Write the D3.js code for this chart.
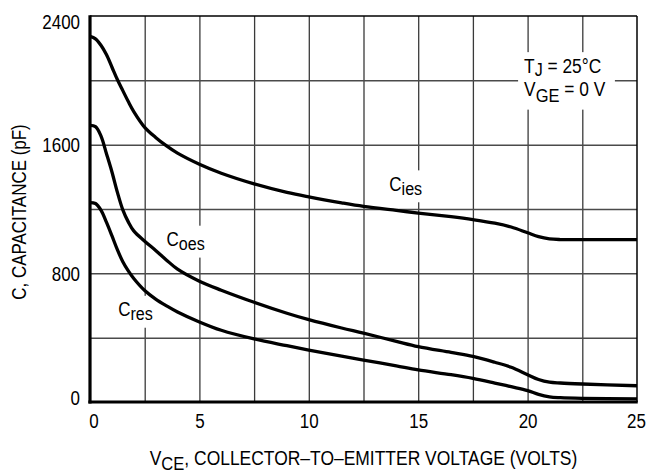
<!DOCTYPE html>
<html>
<head>
<meta charset="utf-8">
<script src="https://cdn.jsdelivr.net/npm/d3@7"></script>
<style>
  html, body { margin: 0; padding: 0; background: #fff; }
  svg { display: block; }
  text { font-family: 'Liberation Sans', Arial, Helvetica, sans-serif; fill: #000; }
</style>
</head>
<body>
<svg id="chart" width="650" height="473"></svg>
<script>
// Collector-emitter voltage (V) at which each capacitance curve is sampled
const voltage = [0, 0.25, 0.5, 0.75, 1, 1.25, 1.5, 1.75, 2, 2.5, 3, 3.5, 4, 5, 6, 7.5, 9, 10,
                 11.5, 12.5, 14, 15, 16.5, 17.5, 18.5, 19.25, 20, 20.5, 21, 21.5, 22.5, 25];

// Input capacitance Cies (pF)
const cies = [2273, 2258, 2218, 2160, 2083, 2005, 1936, 1868, 1806, 1708, 1645, 1592, 1547, 1478,
              1422, 1356, 1303, 1275, 1238, 1216, 1191, 1175, 1152, 1134, 1112, 1088, 1052, 1028,
              1014, 1010, 1010, 1010];

// Output capacitance Coes (pF)
const coes = [1720, 1712, 1655, 1545, 1432, 1305, 1195, 1120, 1064, 1000, 942, 882, 826, 751,
              695, 620, 552, 512, 460, 428, 377, 344, 308, 283, 247, 216, 170, 140, 123, 118, 112, 101];

// Reverse transfer capacitance Cres (pF)
const cres = [1240, 1234, 1193, 1118, 1034, 947, 872, 815, 768, 693, 640, 598, 560, 498,
              446, 392, 350, 323, 286, 261, 224, 199, 170, 147, 118, 95, 71, 47, 32, 27, 23, 19];

// Axis ticks
const xTicks = [0, 5, 10, 15, 20, 25];
const xGrid = [2.5, 5, 7.5, 10, 12.5, 15, 17.5, 20, 22.5];
const yTicks = [0, 800, 1600, 2400];
const yGrid = [400, 800, 1200, 1600, 2000];

// Curve labels: [main, subscript, voltage, capacitance at baseline]
const curveLabels = [
  ["C", "ies", 13.68, 1315],
  ["C", "oes", 3.5, 971],
  ["C", "res", 1.29, 535]
];

const margin = { left: 90, right: 13, top: 16, bottom: 71 };
const W = 650, H = 473;
const iw = W - margin.left - margin.right;
const ih = H - margin.top - margin.bottom;
const FS = 19.5;       // base type size
const SX = 0.87;       // horizontal squeeze for a condensed face

const svg = d3.select("#chart");
const g = svg.append("g").attr("transform", `translate(${margin.left},${margin.top})`);

const x = d3.scaleLinear().domain([0, 25]).range([0, iw]);
const y = d3.scaleLinear().domain([0, 2400]).range([ih, 0]);

// Condense a text element around its own anchor point
function condense(sel, extra, sx) {
  sel.each(function () {
    const t = d3.select(this);
    const tx = +t.attr("x") || 0, ty = +t.attr("y") || 0;
    t.attr("x", 0).attr("y", 0)
      .attr("transform", `translate(${tx},${ty})${extra || ""} scale(${sx || SX},1)`);
  });
}

// Grid lines
g.append("g")
  .attr("transform", `translate(0,${ih})`)
  .call(d3.axisBottom(x).tickValues(xGrid).tickSize(-ih).tickFormat(""))
  .call(a => a.select(".domain").remove())
  .call(a => a.selectAll("line").attr("stroke", "#3a3a3a").attr("stroke-width", 1.3));

g.append("g")
  .call(d3.axisLeft(y).tickValues(yGrid).tickSize(-iw).tickFormat(""))
  .call(a => a.select(".domain").remove())
  .call(a => a.selectAll("line").attr("stroke", "#4a4a4a").attr("stroke-width", 1.5));

const anchor = g.append("g").attr("class", "note-anchor");

// Condition note in the upper right
const note = anchor.append("g");
const noteX = x(19.84);
const t1 = note.append("text").attr("x", noteX).attr("y", y(2045)).attr("font-size", FS);
t1.append("tspan").text("T");
t1.append("tspan").attr("dy", 3).attr("font-size", 18).text("J");
t1.append("tspan").attr("dy", -3).text(" = 25°C");
const t2 = note.append("text").attr("x", noteX).attr("y", y(1900)).attr("font-size", FS);
t2.append("tspan").text("V");
t2.append("tspan").attr("dy", 6).attr("font-size", 18.5).text("GE");
t2.append("tspan").attr("dy", -6).text(" = 0 V");
condense(note.selectAll("text"), "", 0.89);

// Curve labels
const labelGroup = anchor.append("g");
curveLabels.forEach(([main, sub, v, c]) => {
  const t = labelGroup.append("text").attr("x", x(v)).attr("y", y(c)).attr("font-size", FS);
  t.append("tspan").text(main);
  t.append("tspan").attr("dy", 4.5).attr("font-size", 18.5).text(sub);
});
condense(labelGroup.selectAll("text"));

// White boxes behind text so the grid breaks around it
function backdrop(node, padL, padR, padT, padB) {
  const b = node.getBoundingClientRect();
  const o = svg.node().getBoundingClientRect();
  g.insert("rect", ".note-anchor")
    .attr("x", b.left - o.left - margin.left - padL)
    .attr("y", b.top - o.top - margin.top - padT)
    .attr("width", b.width + padL + padR)
    .attr("height", b.height + padT + padB)
    .attr("fill", "#fff");
}
backdrop(note.node(), 6, 9, 3, 3);
labelGroup.selectAll("text").each(function () { backdrop(this, 6, 6, 2, 3); });

// Capacitance curves
const line = d3.line()
  .x((d, i) => x(voltage[i]))
  .y(d => y(d))
  .curve(d3.curveCatmullRom.alpha(0.5));

[cies, coes, cres].forEach(series => {
  g.insert("path", ".note-anchor")
    .datum(series)
    .attr("d", line)
    .attr("fill", "none")
    .attr("stroke", "#000")
    .attr("stroke-width", 3.3)
    .attr("stroke-linejoin", "round");
});

// Frame: heavy left and bottom axes, light top and right edges
g.append("line").attr("x1", 0).attr("x2", iw).attr("y1", 0).attr("y2", 0)
  .attr("stroke", "#000").attr("stroke-width", 1.5);
g.append("line").attr("x1", iw).attr("x2", iw).attr("y1", 0).attr("y2", ih)
  .attr("stroke", "#000").attr("stroke-width", 1.5);
g.append("line").attr("x1", 0).attr("x2", 0).attr("y1", -0.75).attr("y2", ih + 1.5)
  .attr("stroke", "#000").attr("stroke-width", 3.2);
g.append("line").attr("x1", -1.6).attr("x2", iw + 0.75).attr("y1", ih).attr("y2", ih)
  .attr("stroke", "#000").attr("stroke-width", 3.2);

// Tick labels
const xAxis = g.append("g")
  .attr("transform", `translate(0,${ih})`)
  .call(d3.axisBottom(x).tickValues(xTicks).tickSize(0).tickFormat(d3.format("d")));
xAxis.select(".domain").remove();
xAxis.attr("font-family", null).attr("font-size", null);
xAxis.selectAll("text")
  .attr("font-size", FS)
  .attr("dy", 0)
  .attr("y", 26)
  .attr("x", d => d === 0 ? 3.5 : (d === 25 ? -1 : 0));
condense(xAxis.selectAll("text"));

const yAxis = g.append("g")
  .call(d3.axisLeft(y).tickValues(yTicks).tickSize(0).tickFormat(d3.format("d")));
yAxis.select(".domain").remove();
yAxis.attr("font-family", null).attr("font-size", null);
yAxis.selectAll("text")
  .attr("font-size", FS)
  .attr("dy", 0)
  .attr("x", -10)
  .attr("y", d => 7 + (d === 2400 ? 5 : (d === 0 ? -5 : 0)));
condense(yAxis.selectAll("text"));

// Axis titles
const xt = svg.append("text")
  .attr("x", margin.left + iw / 2)
  .attr("y", 464.5)
  .attr("text-anchor", "middle")
  .attr("font-size", FS);
xt.append("tspan").text("V");
xt.append("tspan").attr("dy", 5).attr("font-size", 18.5).text("CE");
xt.append("tspan").attr("dy", -5).text(", COLLECTOR\u2013TO\u2013EMITTER VOLTAGE (VOLTS)");
condense(xt, "", 0.895);

const yt = svg.append("text")
  .attr("x", 26)
  .attr("y", margin.top + ih / 2 + 3)
  .attr("text-anchor", "middle")
  .attr("font-size", FS)
  .text("C, CAPACITANCE (pF)");
condense(yt, " rotate(-90)");
</script>
</body>
</html>
